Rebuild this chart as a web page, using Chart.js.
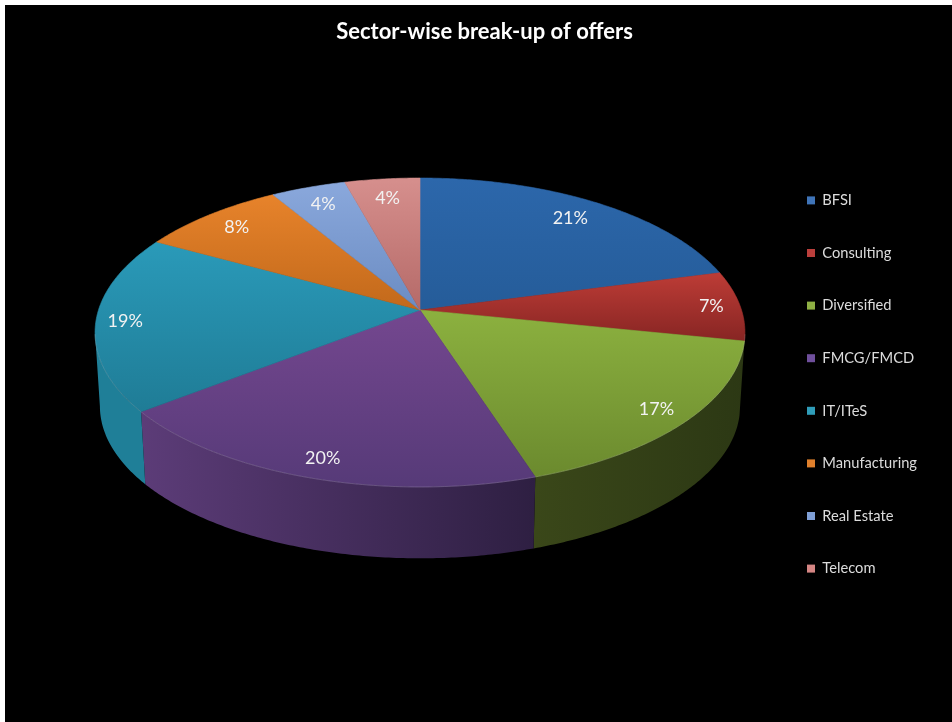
<!DOCTYPE html>
<html>
<head>
<meta charset="utf-8">
<style>
html,body{margin:0;padding:0;background:#fff;overflow:hidden}
#wrap{position:absolute;left:5px;top:5px;width:947px;height:717px;background:#000}
canvas{filter:blur(0.45px)}
</style>
<script src="https://cdn.jsdelivr.net/npm/chart.js@4"></script>
</head>
<body>
<div id="wrap"><canvas id="c"></canvas></div>
<script>
const categories = ["BFSI","Consulting","Diversified","FMCG/FMCD","IT/ITeS","Manufacturing","Real Estate","Telecom"];
const shares = [20.9,7.3,16.8,19.5,18.5,8.4,4.3,4.3];
const legendColors = ["#3f74b8","#bb3f3c","#8fb044","#6f4f9c","#2f9db9","#e0802c","#7f9fd6","#d58684"];
const topStart = ["#2c67ab","#bd3c36","#8cb13f","#74478f","#2a9ab9","#e7832b","#8aa8dc","#d68f8d"];
const topEnd   = ["#255c99","#872523","#6b8a2e","#563a78","#1f7c96","#c2691b","#6b8cc2","#b56a68"];
const wallStart = ["#1c3f68","#5c1c1a","#3a4719","#5c3c78","#1f7f98","#8a4a12","#4a6590","#8a4a48"];
const wallEnd   = ["#1c3f68","#5c1c1a","#2c3814","#2e1f42","#1f7f98","#8a4a12","#4a6590","#8a4a48"];
const labelReach = [0.84,0.91,0.90,0.90,0.91,0.86,0.85,0.84];

const view = {cx:415, cy:305, a:321.5, b:151.2, k:0.1456, depth:74, shrink:0.985};
function project(theta, r, low){
  const u = r*Math.sin(theta), v = -r*Math.cos(theta);
  const d = 1 - view.k*v;
  const s = low ? view.shrink : 1;
  return [view.cx + s*view.a*u/d, view.cy + s*view.b*v/d + (low ? view.depth : 0)];
}
function trace(ctx, t0, t1, low, reverse){
  const n = Math.max(2, Math.ceil((t1-t0)/0.01));
  for(let i=0;i<=n;i++){
    const t = reverse ? t1-(t1-t0)*i/n : t0+(t1-t0)*i/n;
    const p = project(t,1,low);
    ctx.lineTo(p[0],p[1]);
  }
}
const perspectivePie = {
  id:'perspectivePie',
  beforeDatasetsDraw(chart){
    const ctx = chart.ctx, arcs = chart.getDatasetMeta(0).data;
    const span = arcs.map(e=>[e.startAngle+Math.PI/2, e.endAngle+Math.PI/2]);
    ctx.save();
    const lim0 = Math.PI*0.565, lim1 = Math.PI*1.453;
    arcs.forEach((e,i)=>{
      const t0 = Math.max(span[i][0],lim0), t1 = Math.min(span[i][1],lim1);
      if(t1<=t0) return;
      const a = project(t0,1,false), b = project(t1,1,false);
      const g = ctx.createLinearGradient(Math.min(a[0],b[0]),0,Math.max(a[0],b[0]),0);
      g.addColorStop(0,wallStart[i]); g.addColorStop(1,wallEnd[i]);
      ctx.beginPath();
      trace(ctx,t0,t1,false,false);
      trace(ctx,t0,t1,true,true);
      ctx.closePath();
      ctx.fillStyle=g; ctx.fill();
    });
    arcs.forEach((e,i)=>{
      const [t0,t1]=span[i];
      let ymin=view.cy,ymax=view.cy;
      const n=40;
      for(let j=0;j<=n;j++){const p=project(t0+(t1-t0)*j/n,1,false);ymin=Math.min(ymin,p[1]);ymax=Math.max(ymax,p[1]);}
      const g=ctx.createLinearGradient(0,ymin,0,ymax);
      g.addColorStop(0,topStart[i]); g.addColorStop(1,topEnd[i]);
      ctx.beginPath();
      ctx.moveTo(view.cx,view.cy);
      trace(ctx,t0,t1,false,false);
      ctx.closePath();
      ctx.fillStyle=g; ctx.fill();
      ctx.strokeStyle=g; ctx.lineWidth=0.6; ctx.stroke();
      ctx.beginPath();
      const r0=Math.max(t0,Math.PI*0.55), r1=Math.min(t1,Math.PI*1.45);
      if(r1>r0){
        const p=project(r0,1,false); ctx.moveTo(p[0],p[1]);
        trace(ctx,r0,r1,false,false);
        ctx.strokeStyle='rgba(255,255,255,0.16)'; ctx.lineWidth=1; ctx.stroke();
      }
    });
    ctx.fillStyle='#f2f2f2';
    ctx.font='18px Lato';
    ctx.textAlign='center'; ctx.textBaseline='middle';
    arcs.forEach((e,i)=>{
      const mid=(span[i][0]+span[i][1])/2;
      const p=project(mid,labelReach[i],false);
      ctx.fillText(Math.round(shares[i])+'%',p[0],p[1]);
    });
    ctx.restore();
    return false;
  }
};
Chart.defaults.animation=false;
new Chart(document.getElementById('c'),{
  type:'pie',
  data:{labels:categories,datasets:[{data:shares,backgroundColor:legendColors,borderWidth:0}]},
  options:{
    responsive:true,maintainAspectRatio:false,animation:false,
    layout:{padding:{left:37,right:25,top:0,bottom:-42}},
    plugins:{
      title:{display:true,text:'Sector-wise break-up of offers',color:'#ffffff',
        font:{family:'Lato',size:22,weight:'bold'},padding:{top:14,bottom:8}},
      legend:{position:'right',
        labels:{color:'#dcdcdc',font:{family:'Lato',size:14.7},boxWidth:8,boxHeight:8,padding:37.9}},
      tooltip:{enabled:false}
    }
  },
  plugins:[perspectivePie]
});
</script>
</body>
</html>
